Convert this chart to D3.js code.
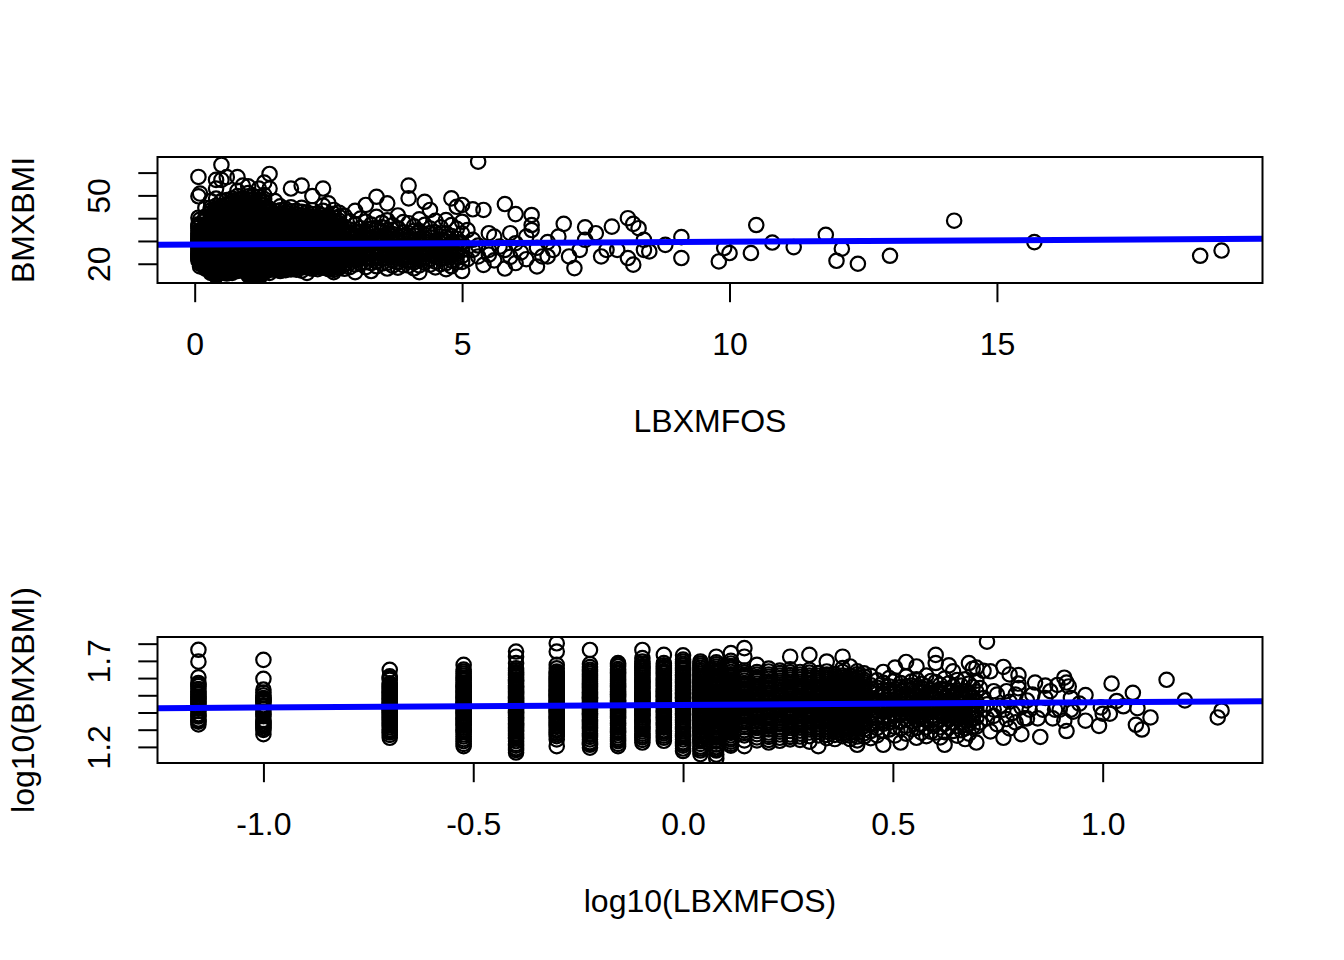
<!DOCTYPE html>
<html><head><meta charset="utf-8">
<script src="https://cdn.jsdelivr.net/npm/d3@7"></script>
<style>
html,body{margin:0;padding:0;background:#fff;}
svg{display:block;}
</style>
</head><body>
<svg id="chart" width="1344" height="960"></svg>
<script>
// ---- DATA ----
// LBXMFOS levels (recorded at 0.1 precision) and the BMXBMI values seen at each level
const levels = [0.07,0.1,0.2,0.3,0.4,0.5,0.6,0.7,0.8,0.9,1.0,1.1,1.2,1.3,
  1.4,1.5,1.6,1.7,1.8,1.9,2.0,2.1,2.2,2.3,2.4,2.5,2.6,2.7,
  2.8,2.9,3.0,3.1,3.2,3.3,3.4,3.5,3.6,3.7,3.8,3.9,4.0,4.1,4.2,4.3,4.4,4.5,4.6,4.7,4.8,4.9,5.0];
const bmiAtLevel = [
  [58.1,49.6,40.2,37.3,35.7,34.4,33.3,32.0,31.1,30.0,29.2,28.1,27.3,25.6,24.6,23.8,22.9,22.2,21.4],
  [50.8,39.4,34.1,31.6,30.5,29.7,28.8,27.2,26.3,23.9,22.7,21.8,20.9,19.9,18.8],
  [44.5,40.7,38.9,37.1,35.8,34.4,33.0,32.1,30.9,29.9,28.7,27.8,26.6,25.8,24.9,23.7,22.9,21.9,21.1,20.0,19.2,17.9],
  [47.5,44.6,42.3,40.1,38.5,36.4,35.3,33.8,32.7,31.3,30.4,29.1,28.4,27.2,26.6,25.4,24.7,23.5,22.9,21.8,21.1,20.0,19.3,18.2,17.1,16.0],
  [56.8,53.0,48.6,45.4,43.0,41.3,39.2,37.9,36.1,34.9,33.4,32.4,31.1,30.2,29.0,28.3,27.2,26.5,25.4,24.7,23.6,22.9,21.8,21.2,20.2,19.5,18.4,17.7,16.5,15.6,14.7],
  [63.4,56.8,47.5,43.5,41.6,39.8,38.6,36.9,35.6,33.9,33.1,31.8,31.0,29.7,29.1,27.8,27.1,25.9,25.2,23.9,23.2,22.1,21.2,20.1,19.2,18.3,16.0],
  [58.0,48.0,44.5,42.2,39.9,38.1,36.4,35.1,33.4,32.2,30.9,30.1,28.8,28.1,26.9,26.1,24.9,24.2,22.9,22.2,21.0,20.2,19.0,18.1,16.9,16.3,15.7],
  [48.6,46.5,43.8,42.1,39.8,38.2,36.3,35.2,33.4,32.1,31.2,29.8,29.1,27.9,27.2,25.9,25.1,24.0,23.2,21.9,21.1,19.9,19.1,17.9,17.1,16.0],
  [58.0,52.0,49.7,46.8,45.1,42.9,41.2,38.9,37.6,35.8,34.6,32.9,32.1,30.8,30.1,28.9,28.1,26.8,26.1,24.9,24.1,22.8,22.1,20.9,20.1,18.9,18.0,16.8],
  [54.3,48.6,46.1,43.8,42.2,39.8,38.6,36.8,35.6,33.9,33.2,31.8,31.1,29.9,29.0,27.9,27.1,25.8,25.1,23.9,23.0,21.9,21.1,19.8,19.0,17.9,17.2],
  [54.0,51.0,48.2,45.8,44.1,41.8,40.2,38.3,37.1,35.4,34.2,32.8,32.1,30.8,30.1,28.8,28.2,26.9,26.0,24.8,24.1,22.9,22.0,20.8,20.1,18.9,18.1,16.9,16.1,15.0],
  [49.7,47.1,44.3,42.2,39.9,38.1,36.6,34.8,33.6,32.1,31.0,29.9,29.1,27.8,27.1,25.9,25.0,23.8,23.1,21.9,21.0,19.8,19.1,17.8,17.1,15.9,15.1,14.4],
  [53.0,49.2,46.4,43.9,42.1,39.8,38.2,36.4,35.1,33.4,32.2,31.0,29.8,29.0,27.9,27.1,25.8,25.1,23.9,23.0,21.8,21.1,19.9,19.0,17.9,17.0,15.8,15.1,13.6],
  [55.6,50.1,46.8,44.6,41.9,40.1,37.9,36.6,34.8,33.6,32.0,31.1,29.9,28.9,28.1,26.8,26.1,24.9,24.1,22.8,22.0,20.9,19.8,19.1,17.9,17.0,16.1],
  [59.4,53.0,44.1,41.6,39.8,37.2,35.6,33.5,32.0,30.3,29.1,27.6,26.4,24.9,23.9,22.4,21.3,19.8,18.5,16.0],
  [47.5,43.1,40.3,38.2,35.9,34.3,32.4,31.0,29.3,28.2,26.7,25.5,24.1,23.0,21.5,20.4,18.8,17.3],
  [45.2,41.8,39.4,36.9,35.1,32.9,31.5,29.7,28.5,26.9,25.8,24.4,23.4,21.9,20.8,19.2,18.1,16.8],
  [44.0,41.2,38.5,36.5,34.3,32.7,30.8,29.5,27.9,26.7,25.2,24.1,22.6,21.5,20.0,18.7,17.2],
  [53.0,44.8,41.4,39.0,36.6,34.8,32.8,31.3,29.5,28.3,26.7,25.6,24.1,23.0,21.5,20.4,18.7,17.5],
  [43.2,40.5,37.9,36.0,33.9,32.3,30.5,29.2,27.6,26.5,25.0,23.9,22.4,21.3,19.7,18.2],
  [54.3,44.5,41.2,38.8,36.3,34.5,32.5,31.0,29.2,28.0,26.4,25.3,23.8,22.7,21.2,20.0,18.3,17.0],
  [42.6,39.8,37.6,35.4,33.7,31.8,30.4,28.7,27.5,26.0,24.9,23.4,22.3,20.7,19.4,16.0],
  [49.7,43.5,40.2,38.0,35.6,33.9,31.9,30.5,28.8,27.6,26.0,24.9,23.4,22.3,20.7,19.4,17.8],
  [42.0,39.3,36.7,34.9,32.9,31.4,29.6,28.4,26.8,25.7,24.2,23.1,21.5,20.3,18.6],
  [53.0,45.5,41.2,38.7,36.1,34.3,32.3,30.8,29.1,27.8,26.2,25.1,23.5,22.4,20.8,19.6,18.3],
  [46.5,41.0,38.3,35.7,33.9,31.9,30.5,28.8,27.6,26.1,25.0,23.5,22.3,20.7,19.3,17.6],
  [43.6,40.2,37.3,35.2,33.1,31.6,29.8,28.5,26.9,25.8,24.2,23.0,21.4,20.1,18.2,16.3],
  [42.4,38.9,36.6,34.3,32.7,30.8,29.4,27.8,26.6,25.0,23.8,22.2,20.9,19.0],
  [41.0,36.2,33.1,30.5,28.4,26.7,25.0,23.2,21.5,19.6,17.8],
  [38.6,35.0,32.2,29.6,27.6,25.8,24.1,22.3,20.4,18.5],
  [43.2,37.4,33.9,31.1,28.9,27.0,25.2,23.4,21.6,19.7,16.3],
  [39.8,35.6,32.4,29.9,27.8,25.9,24.0,22.1,20.0],
  [45.8,38.5,34.4,31.3,28.9,26.8,24.8,22.8,20.7,18.5],
  [37.2,33.5,30.6,28.2,26.2,24.3,22.4,20.3,16.8],
  [49.4,40.6,35.7,32.1,29.3,27.1,25.0,23.0,21.0,18.9],
  [38.0,34.0,30.9,28.4,26.3,24.3,22.3,20.1],
  [46.5,39.1,34.8,31.6,29.0,26.8,24.7,22.6,20.4,17.9],
  [36.9,33.0,30.1,27.7,25.6,23.6,21.5,19.2],
  [41.2,35.6,31.9,29.1,26.8,24.7,22.7,20.6,18.3],
  [38.3,33.8,30.6,28.0,25.8,23.7,21.6,19.4],
  [54.3,48.7,37.8,33.4,30.2,27.6,25.4,23.4,21.4,19.2],
  [36.4,32.5,29.5,27.0,24.9,22.8,20.6,18.0],
  [39.5,34.3,30.8,28.1,25.8,23.7,21.6,19.3,16.3],
  [47.2,37.1,32.8,29.6,27.1,24.9,22.8,20.5],
  [43.6,35.5,31.6,28.7,26.3,24.1,22.0,19.6],
  [38.8,33.7,30.2,27.5,25.2,23.1,20.9,18.4],
  [36.0,32.1,29.0,26.5,24.3,22.1,19.8],
  [39.2,33.4,29.8,27.1,24.8,22.6,20.3,17.6],
  [48.7,37.0,32.2,28.9,26.1,23.8,21.5,18.9],
  [45.0,35.3,31.0,27.9,25.4,23.1,20.7],
  [45.8,38.4,33.2,29.0,26.0,23.4,20.8,16.8]
];
// further observations at the same levels (the overplotted core of each column)
const bmiAtLevelMore = [
  [36.5,32.6,30.5,28.7,26.4,24.2,22.6],
  [32.8,30.1,29.2,27.7,25.2,24.5,22.3,21.3,20.4],
  [39.8,36.4,35.1,33.6,32.6,31.5,30.4,29.3,28.2,27.2,26.2,25.3,24.3,23.3,22.5,21.5,20.6,19.6,18.6],
  [43.4,41.2,39.3,37.5,35.8,34.5,33.2,32.0,30.8,29.7,28.7,27.8,26.9,26.0,25.0,24.1,23.2,22.3,21.4,20.5,19.7,18.7,17.6,16.5],
  [44.2,42.1,40.2,38.5,37.0,35.5,34.1,32.9,31.7,30.6,29.6,28.7,27.7,26.8,25.9,25.1,24.2,23.3,22.4,21.5,20.7,19.8,18.9,18.0,17.1,16.1,15.2],
  [45.4,42.6,40.7,39.2,37.7,36.2,34.8,33.5,32.4,31.4,30.4,29.4,28.5,27.5,26.5,25.6,24.6,23.6,22.6,21.7,20.7,19.7,18.8,17.5],
  [46.1,43.3,41.0,39.0,37.2,35.7,34.3,32.8,31.6,30.5,29.5,28.4,27.5,26.5,25.5,24.6,23.6,22.6,21.6,20.6,19.6,18.6,17.5,16.6],
  [47.5,44.9,42.9,40.9,39.0,37.2,35.7,34.3,32.7,31.7,30.5,29.4,28.5,27.6,26.5,25.5,24.6,23.6,22.5,21.5,20.5,19.5,18.5,17.5,16.5],
  [48.2,45.9,44.0,42.0,40.1,38.2,36.7,35.2,33.7,32.5,31.4,30.5,29.5,28.5,27.4,26.5,25.5,24.5,23.4,22.5,21.5,20.5,19.5,18.4,17.4],
  [47.3,45.0,43.0,41.0,39.2,37.7,36.2,34.7,33.5,32.5,31.4,30.5,29.4,28.5,27.5,26.5,25.5,24.5,23.5,22.5,21.5,20.5,19.4,18.4],
  [49.6,47.0,44.9,42.9,41.0,39.2,37.7,36.2,34.8,33.5,32.5,31.4,30.5,29.5,28.5,27.5,26.5,25.4,24.5,23.5,22.5,21.4,20.5,19.5,18.5,17.5,16.5,15.5],
  [48.3,45.7,43.2,41.0,39.0,37.3,35.7,34.2,32.8,31.5,30.5,29.5,28.5,27.5,26.5,25.5,24.4,23.5,22.5,21.5,20.4,19.5,18.5,17.5,16.5,15.5],
  [47.8,45.1,43.0,41.0,39.0,37.3,35.8,34.2,32.8,31.6,30.4,29.4,28.5,27.5,26.5,25.5,24.5,23.5,22.4,21.5,20.5,19.5,18.5,17.4,16.4,15.4,14.3],
  [48.4,45.7,43.2,41.0,39.0,37.2,35.7,34.2,32.8,31.5,30.5,29.4,28.5,27.5,26.5,25.5,24.5,23.5,22.4,21.5,20.4,19.5,18.5,17.5,16.5],
  [42.8,40.7,38.5,36.4,34.5,32.7,31.2,29.7,28.4,27.0,25.6,24.4,23.2,22.0,20.6,19.1,17.3],
  [41.7,39.2,37.0,35.1,33.3,31.7,30.1,28.7,27.4,26.1,24.8,23.5,22.2,20.9,19.6,18.0],
  [43.5,40.6,38.1,36.0,34.0,32.2,30.6,29.1,27.7,26.3,25.1,23.9,22.6,21.3,20.0,18.6,17.4],
  [42.6,39.8,37.5,35.4,33.5,31.7,30.1,28.7,27.3,25.9,24.6,23.3,22.0,20.7,19.4,17.9],
  [43.0,40.2,37.8,35.7,33.8,32.0,30.4,28.9,27.5,26.1,24.8,23.5,22.2,20.9,19.6,18.1],
  [41.8,39.2,36.9,35.0,33.1,31.4,29.8,28.4,27.0,25.7,24.4,23.1,21.8,20.5,18.9,17.4],
  [42.8,39.9,37.5,35.4,33.5,31.7,30.1,28.6,27.2,25.8,24.5,23.2,21.9,20.6,19.2],
  [41.1,38.7,36.5,34.5,32.7,31.1,29.5,28.1,26.7,25.4,24.1,22.8,21.5,20.1,18.5],
  [41.8,39.1,36.8,34.7,32.9,31.2,29.6,28.2,26.8,25.4,24.1,22.8,21.5,20.0,18.6],
  [40.6,38.0,35.8,33.9,32.1,30.5,29.0,27.6,26.2,24.9,23.6,22.3,20.9,19.4,17.6],
  [43.2,39.9,37.4,35.2,33.3,31.5,29.9,28.4,27.0,25.6,24.3,23.0,21.6,20.2,18.9],
  [39.6,37.0,34.8,32.9,31.2,29.6,28.1,26.8,25.5,24.2,22.9,21.5,20.0,18.4],
  [41.9,38.8,36.2,34.1,32.3,30.6,29.1,27.7,26.3,25.0,23.6,22.2,20.8,19.1,17.3],
  [40.6,37.7,35.4,33.5,31.7,30.1,28.6,27.2,25.8,24.4,23.0,21.6,20.0,18.2],
  [34.6,29.4,24.1],
  [33.6,28.6,23.2],
  [32.5,27.9,22.5],
  [34.0,28.8,23.0],
  [32.8,27.8],
  [35.3,29.4,25.2],
  [30.7,26.0],
  [36.0,29.6,25.3],
  [33.2,27.9],
  [34.9,28.9,24.6],
  [30.5,25.7],
  [32.2,26.9,22.6],
  [31.8,26.5],
  [34.4,28.2],
  [29.4,24.7],
  [31.2,26.0],
  [33.5,27.5],
  [28.8,24.1],
  [30.5,25.4],
  [31.6,25.9],
  [27.5],
  [29.4,24.3],
  [27.5]
];
// sparse observations above LBXMFOS = 5
const sparseLBXMFOS = [5.1,5.1,5.2,5.2,5.2,5.3,5.3,5.3,5.4,5.4,5.5,5.5,5.5,5.6,5.6,5.7,5.8,5.8,5.8,5.9,5.9,
  6.0,6.0,6.0,6.1,6.2,6.2,6.3,6.3,6.3,6.4,6.4,6.5,6.6,6.6,6.7,6.8,6.9,7.0,7.1,7.2,7.3,7.3,7.5,7.6,7.7,7.8,7.9,
  8.1,8.1,8.2,8.2,8.3,8.4,8.4,8.5,8.8,9.1,9.1,9.8,9.9,10.0,10.4,10.5,10.8,11.2,11.8,12.0,12.1,12.4,13.0,14.2,15.7,18.8,19.2];
const sparseBMXBMI = [34.8,22.0,43.9,26.1,30.5,64.8,23.2,28.0,43.6,19.5,33.4,26.1,24.0,31.9,21.5,27.5,46.2,26.1,17.9,33.4,23.0,
  41.8,20.3,29.0,25.0,31.9,22.0,41.4,37.0,34.8,18.8,27.0,23.2,23.2,29.5,26.1,31.9,37.5,23.2,18.1,26.1,36.0,30.5,33.4,23.2,26.1,36.3,26.1,
  40.0,22.5,37.5,19.6,35.6,30.5,26.1,25.4,28.3,31.7,22.5,21.0,26.9,24.7,24.7,37.0,29.3,27.3,32.7,21.3,26.6,20.0,23.5,38.9,29.5,23.5,25.8];
// lm fits (intercept, slope)
const fitRaw = [28.4, 0.127];
const fitLog = [1.444, 0.0152];
// axes
const xTicksRaw = [0, 5, 10, 15];
const xLabelsRaw = ["0", "5", "10", "15"];
const yTicksRaw = [20, 30, 40, 50, 60];
const yLabelsRaw = ["20", "", "", "50", ""];
const xTicksLog = [-1.0, -0.5, 0.0, 0.5, 1.0];
const xLabelsLog = ["-1.0", "-0.5", "0.0", "0.5", "1.0"];
const yTicksLog = [1.2, 1.3, 1.4, 1.5, 1.6, 1.7, 1.8];
const yLabelsLog = ["1.2", "", "", "", "", "1.7", ""];

// ---- build series ----
const lbx = [], bmi = [];
levels.forEach((lv, i) => {
  bmiAtLevel[i].forEach(b => { lbx.push(lv); bmi.push(b); });
  bmiAtLevelMore[i].forEach(b => { lbx.push(lv); bmi.push(b); });
});
sparseLBXMFOS.forEach((v, i) => { lbx.push(v); bmi.push(sparseBMXBMI[i]); });
const lbxLog = lbx.map(Math.log10), bmiLog = bmi.map(Math.log10);

const rExt = ([lo, hi]) => { const r = hi - lo; return [lo - 0.04 * r, hi + 0.04 * r]; };

const svg = d3.select("#chart");
const LEFT = 157.5, RIGHT = 1262.5;
const FONT = "'Liberation Sans', Arial, Helvetica, sans-serif";

function panel(cfg) {
  const { top, bottom, xs, ys, xTicks, xLabels, yTicks, yLabels, fit, xTitle, yTitle, id } = cfg;
  const xd = rExt(d3.extent(xs)), yd = rExt(d3.extent(ys));
  const x = d3.scaleLinear().domain(xd).range([LEFT, RIGHT]);
  const y = d3.scaleLinear().domain(yd).range([bottom, top]);

  svg.append("clipPath").attr("id", id).append("rect")
    .attr("x", LEFT).attr("y", top).attr("width", RIGHT - LEFT).attr("height", bottom - top);
  const g = svg.append("g").attr("clip-path", `url(#${id})`);
  g.selectAll("circle").data(d3.range(xs.length)).join("circle")
    .attr("cx", i => x(xs[i])).attr("cy", i => y(ys[i])).attr("r", 7.2)
    .attr("fill", "none").attr("stroke", "#000").attr("stroke-width", 2.2);

  const xa = svg.append("g").attr("transform", `translate(0,${bottom})`)
    .call(d3.axisBottom(x).tickValues(xTicks).tickFormat((d, i) => xLabels[i]).tickSize(19.2).tickSizeOuter(0));
  xa.select(".domain").remove();
  xa.attr("font-size", 32).attr("font-family", FONT).attr("color", "#000");
  xa.selectAll("line").attr("stroke-width", 2);
  xa.selectAll("text").attr("y", 72).attr("dy", null);

  const ya = svg.append("g").attr("transform", `translate(${LEFT},0)`)
    .call(d3.axisLeft(y).tickValues(yTicks).tickFormat((d, i) => yLabels[i]).tickSize(19.2).tickSizeOuter(0));
  ya.select(".domain").remove();
  ya.attr("font-size", 32).attr("font-family", FONT).attr("color", "#000");
  ya.selectAll("line").attr("stroke-width", 2);
  ya.selectAll("text").attr("x", null).attr("dy", null).attr("text-anchor", "middle")
    .attr("transform", "translate(-47.5,0) rotate(-90)");

  svg.append("rect").attr("x", LEFT).attr("y", top).attr("width", RIGHT - LEFT).attr("height", bottom - top)
    .attr("fill", "none").attr("stroke", "#000").attr("stroke-width", 2);

  g.append("line")
    .attr("x1", x(xd[0])).attr("y1", y(fit[0] + fit[1] * xd[0]))
    .attr("x2", x(xd[1])).attr("y2", y(fit[0] + fit[1] * xd[1]))
    .attr("stroke", "#0000FF").attr("stroke-width", 6);

  svg.append("text").attr("x", (LEFT + RIGHT) / 2).attr("y", bottom + 149)
    .attr("text-anchor", "middle").attr("font-size", 32).attr("font-family", FONT).attr("fill", "#000")
    .text(xTitle);
  svg.append("text").attr("transform", `translate(${LEFT - 123.5},${(top + bottom) / 2}) rotate(-90)`)
    .attr("text-anchor", "middle").attr("font-size", 32).attr("font-family", FONT).attr("fill", "#000")
    .text(yTitle);
}

panel({ top: 157, bottom: 283, xs: lbx, ys: bmi, xTicks: xTicksRaw, xLabels: xLabelsRaw,
  yTicks: yTicksRaw, yLabels: yLabelsRaw, fit: fitRaw, xTitle: "LBXMFOS", yTitle: "BMXBMI", id: "clipTop" });
panel({ top: 637, bottom: 763, xs: lbxLog, ys: bmiLog, xTicks: xTicksLog, xLabels: xLabelsLog,
  yTicks: yTicksLog, yLabels: yLabelsLog, fit: fitLog, xTitle: "log10(LBXMFOS)", yTitle: "log10(BMXBMI)", id: "clipBot" });
</script>
</body></html>
